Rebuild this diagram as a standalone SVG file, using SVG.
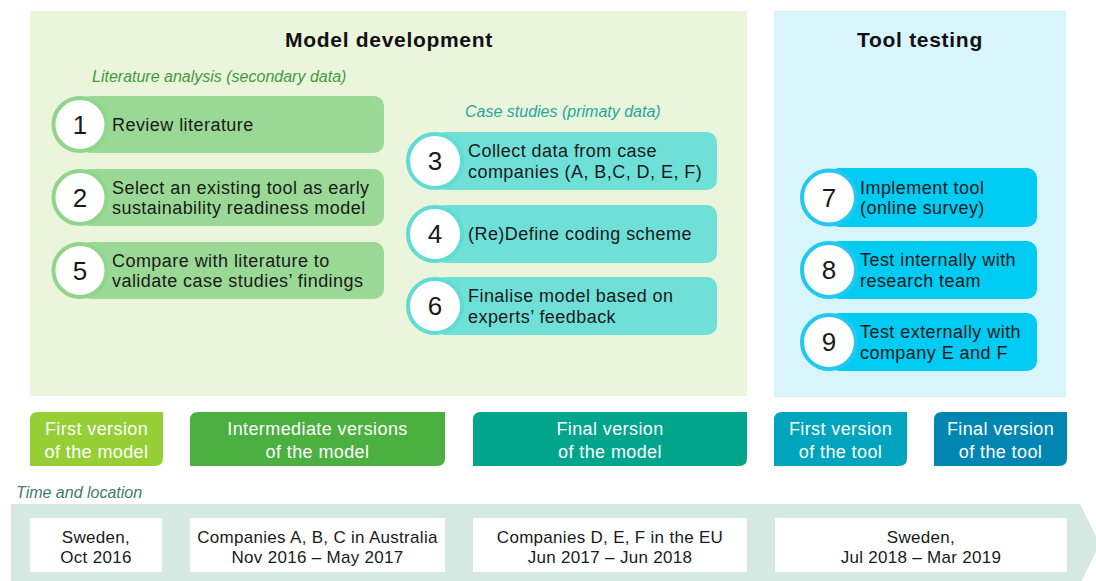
<svg xmlns="http://www.w3.org/2000/svg" width="1096" height="581" viewBox="0 0 1096 581">
<style>
text{font-family:"Liberation Sans",Arial,sans-serif;}
.title{font-size:21px;font-weight:bold;fill:#111;letter-spacing:0.7px;text-anchor:middle;}
.sub{font-size:16px;font-style:italic;}
.st{font-size:18px;fill:#1a1a1a;letter-spacing:0.45px;}
.num{font-size:26px;fill:#1a1a1a;text-anchor:middle;}
.lab{font-size:18px;fill:#ffffff;letter-spacing:0.4px;text-anchor:middle;}
.loc{font-size:17px;fill:#1a1a1a;letter-spacing:0.3px;text-anchor:middle;}
.circ{fill:#ffffff;stroke-width:4;}
.g .pill{fill:#9ad995;} .g .circ{stroke:#8fd68a;}
.t .pill{fill:#6ee0d8;} .t .circ{stroke:#5fdcd3;}
.b .pill{fill:#00cbf3;} .b .circ{stroke:#22c8f0;}
</style>
<rect id="panel-model" x="30" y="11" width="717" height="385" fill="#ebf5dc"/>
<rect id="panel-tool" x="774" y="11" width="292" height="386" fill="#d8f5fc"/>
<text class="title" x="389" y="47">Model development</text>
<text class="title" x="920" y="47">Tool testing</text>
<text class="sub" x="92" y="82" fill="#3f9c3a">Literature analysis (secondary data)</text>
<text class="sub" x="465" y="117" fill="#1fa89b">Case studies (primaty data)</text>

<g id="step1" class="g"><rect class="pill" x="80" y="96" width="304" height="57" rx="10"/><circle class="circ" cx="80" cy="124.5" r="26.5"/><text class="num" x="80" y="133.5">1</text><text class="st" x="112" y="130.5">Review literature</text></g>
<g id="step2" class="g"><rect class="pill" x="80" y="169" width="304" height="57" rx="10"/><circle class="circ" cx="80" cy="197.5" r="26.5"/><text class="num" x="80" y="206.5">2</text><text class="st" x="112" y="193.5">Select an existing tool as early</text><text class="st" x="112" y="214">sustainability readiness model</text></g>
<g id="step5" class="g"><rect class="pill" x="80" y="242" width="304" height="57" rx="10"/><circle class="circ" cx="80" cy="270.5" r="26.5"/><text class="num" x="80" y="279.5">5</text><text class="st" x="112" y="266.5">Compare with literature to</text><text class="st" x="112" y="287">validate case studies’ findings</text></g>

<g id="step3" class="t"><rect class="pill" x="435" y="132" width="282" height="58" rx="10"/><circle class="circ" cx="435" cy="161" r="27"/><text class="num" x="435" y="170">3</text><text class="st" x="468" y="157">Collect data from case</text><text class="st" x="468" y="177.5">companies (A, B,C, D, E, F)</text></g>
<g id="step4" class="t"><rect class="pill" x="435" y="205" width="282" height="58" rx="10"/><circle class="circ" cx="435" cy="234" r="27"/><text class="num" x="435" y="243">4</text><text class="st" x="468" y="240">(Re)Define coding scheme</text></g>
<g id="step6" class="t"><rect class="pill" x="435" y="277" width="282" height="58" rx="10"/><circle class="circ" cx="435" cy="306" r="27"/><text class="num" x="435" y="315">6</text><text class="st" x="468" y="302">Finalise model based on</text><text class="st" x="468" y="322.5">experts’ feedback</text></g>

<g id="step7" class="b"><rect class="pill" x="829" y="168" width="208" height="59" rx="10"/><circle class="circ" cx="829" cy="197.5" r="27"/><text class="num" x="829" y="206.5">7</text><text class="st" x="860" y="193.5">Implement tool</text><text class="st" x="860" y="214">(online survey)</text></g>
<g id="step8" class="b"><rect class="pill" x="829" y="241" width="208" height="58" rx="10"/><circle class="circ" cx="829" cy="270" r="27"/><text class="num" x="829" y="279">8</text><text class="st" x="860" y="266">Test internally with</text><text class="st" x="860" y="286.5">research team</text></g>
<g id="step9" class="b"><rect class="pill" x="829" y="313" width="208" height="58" rx="10"/><circle class="circ" cx="829" cy="342" r="27"/><text class="num" x="829" y="351">9</text><text class="st" x="860" y="338">Test externally with</text><text class="st" x="860" y="358.5">company E and F</text></g>

<g id="label-first-model"><path d="M30 420 Q30 412 38 412 L163 412 L163 458 Q163 466 155 466 L30 466 Z" fill="#95cf35"/><text class="lab" x="96.5" y="435">First version</text><text class="lab" x="96.5" y="458">of the model</text></g>
<g id="label-intermediate"><path d="M190 420 Q190 412 198 412 L445 412 L445 458 Q445 466 437 466 L190 466 Z" fill="#4cb040"/><text class="lab" x="317.5" y="435">Intermediate versions</text><text class="lab" x="317.5" y="458">of the model</text></g>
<g id="label-final-model"><path d="M473 420 Q473 412 481 412 L747 412 L747 458 Q747 466 739 466 L473 466 Z" fill="#00a58b"/><text class="lab" x="610" y="435">Final version</text><text class="lab" x="610" y="458">of the model</text></g>
<g id="label-first-tool"><path d="M774 420 Q774 412 782 412 L907 412 L907 458 Q907 466 899 466 L774 466 Z" fill="#00a4bd"/><text class="lab" x="840.5" y="435">First version</text><text class="lab" x="840.5" y="458">of the tool</text></g>
<g id="label-final-tool"><path d="M934 420 Q934 412 942 412 L1067 412 L1067 458 Q1067 466 1059 466 L934 466 Z" fill="#0086b1"/><text class="lab" x="1000.5" y="435">Final version</text><text class="lab" x="1000.5" y="458">of the tool</text></g>

<text class="sub" x="16" y="498" fill="#3f7b6e">Time and location</text>
<polygon id="timeline" points="11,504 1080,504 1100,544 1080,584 11,584" fill="#d6e8e2"/>
<g id="loc1"><rect x="30" y="518" width="132" height="54" fill="#ffffff"/><text class="loc" x="96" y="543">Sweden,</text><text class="loc" x="96" y="563">Oct 2016</text></g>
<g id="loc2"><rect x="190" y="518" width="255" height="54" fill="#ffffff"/><text class="loc" x="317.5" y="543">Companies A, B, C in Australia</text><text class="loc" x="317.5" y="563">Nov 2016 – May 2017</text></g>
<g id="loc3"><rect x="473" y="518" width="274" height="54" fill="#ffffff"/><text class="loc" x="610" y="543">Companies D, E, F in the EU</text><text class="loc" x="610" y="563">Jun 2017 – Jun 2018</text></g>
<g id="loc4"><rect x="775" y="518" width="292" height="54" fill="#ffffff"/><text class="loc" x="921" y="543">Sweden,</text><text class="loc" x="921" y="563">Jul 2018 – Mar 2019</text></g>
<g id="connectors"></g>
</svg>
